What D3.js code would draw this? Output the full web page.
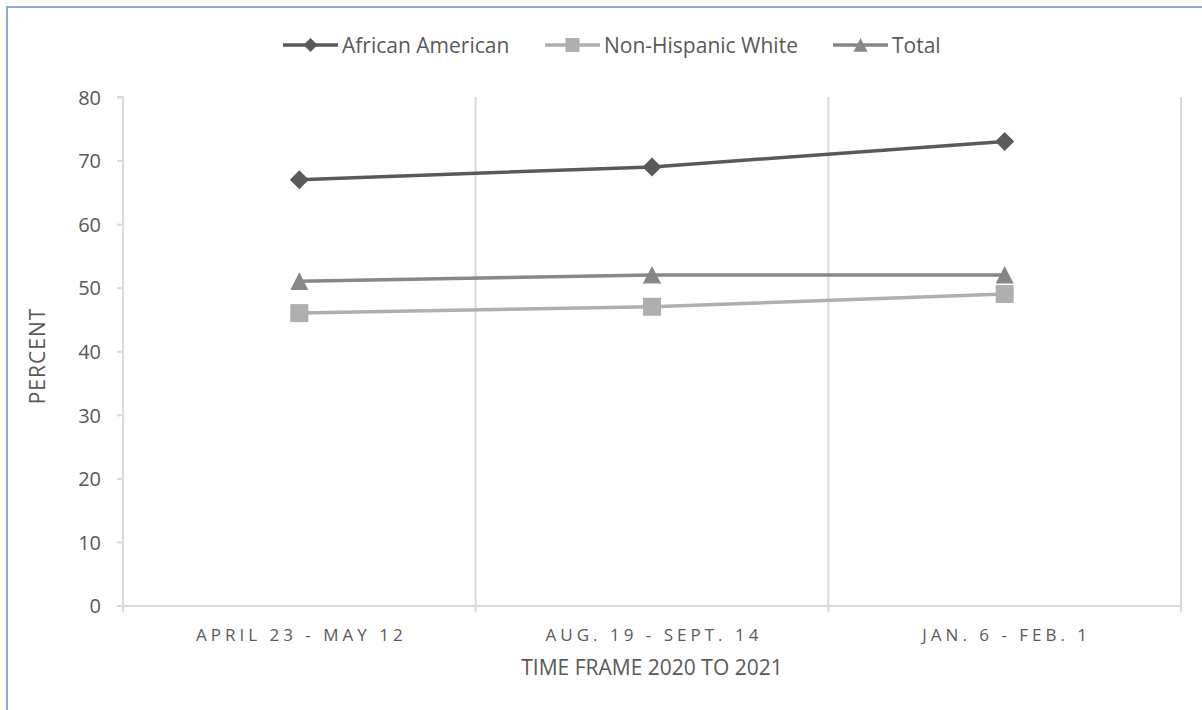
<!DOCTYPE html>
<html><head><meta charset="utf-8">
<script src="https://cdn.jsdelivr.net/npm/d3@7"></script>
<style>
html,body{margin:0;padding:0;background:#fff;}
svg{display:block;}
text{font-family:"Open Sans",sans-serif;fill:#595959;}
</style></head>
<body>
<svg id="chart" width="1202" height="710"></svg>
<script>
const categories = ["APRIL 23 - MAY 12", "AUG. 19 - SEPT. 14", "JAN. 6 - FEB. 1"];
const africanAmerican = [67, 69, 73];
const nonHispanicWhite = [46, 47, 49];
const total = [51, 52, 52];
const yTicks = [0, 10, 20, 30, 40, 50, 60, 70, 80];
const seriesNames = ["African American", "Non-Hispanic White", "Total"];

const series = [
  {name: seriesNames[0], values: africanAmerican, color: "#595959", marker: "diamond"},
  {name: seriesNames[1], values: nonHispanicWhite, color: "#afafaf", marker: "square"},
  {name: seriesNames[2], values: total, color: "#878787", marker: "triangle"}
];

const svg = d3.select("#chart");
const W = 1202, H = 710;
const pLeft = 123, pRight = 1181, pTop = 97, pBottom = 605.5;

// outer border (only top and left edges visible)
svg.append("rect").attr("x", 7).attr("y", 7).attr("width", W + 20).attr("height", H + 20)
  .attr("fill", "none").attr("stroke", "#8eaadb").attr("stroke-width", 2);

const x = d3.scaleBand().domain(categories).range([pLeft, pRight]).paddingInner(0).paddingOuter(0);
const y = d3.scaleLinear().domain([0, 80]).range([pBottom, pTop]);

// vertical gridlines at category boundaries
const bounds = categories.map(c => x(c)).concat([pRight]);
svg.append("g").selectAll("line").data(bounds.slice(1)).join("line")
  .attr("x1", d => d).attr("x2", d => d).attr("y1", pTop).attr("y2", pBottom)
  .attr("stroke", "#d9d9d9").attr("stroke-width", 2);

// y axis
const yAxis = svg.append("g").attr("transform", `translate(${pLeft},0)`)
  .call(d3.axisLeft(y).tickValues(yTicks).tickSize(6).tickPadding(16));
yAxis.select(".domain").attr("stroke", "#d9d9d9").attr("stroke-width", 2).attr("d", `M-6,${pTop}H0V${pBottom}`);
yAxis.selectAll(".tick line").attr("stroke", "#d9d9d9").attr("stroke-width", 2);
yAxis.selectAll(".tick text").attr("fill", "#595959").style("font-size", "20px").attr("dy", "0.36em")
  .style("font-family", "'Open Sans', sans-serif");

// x axis
const xAxis = svg.append("g").attr("transform", `translate(0,${pBottom})`)
  .call(d3.axisBottom(x).tickSize(0).tickPadding(0));
xAxis.select(".domain").attr("stroke", "#d9d9d9").attr("stroke-width", 2);
xAxis.selectAll(".tick text").attr("fill", "#595959").style("font-size", "17px")
  .attr("y", 35).attr("dy", 0).attr("dx", 2)
  .style("letter-spacing", "4px").style("font-family", "'Open Sans', sans-serif");
svg.append("g").selectAll("line").data(bounds).join("line")
  .attr("x1", d => d).attr("x2", d => d).attr("y1", pBottom).attr("y2", pBottom + 7)
  .attr("stroke", "#d9d9d9").attr("stroke-width", 2);

// axis titles
svg.append("text").attr("x", (pLeft + pRight) / 2).attr("y", 675).attr("text-anchor", "middle")
  .style("font-size", "21px").text("TIME FRAME 2020 TO 2021");
svg.append("text").attr("transform", `translate(45,356) rotate(-90)`)
  .attr("text-anchor", "middle").style("font-size", "21px").style("letter-spacing", "1px").text("PERCENT");

function drawMarker(g, type, color, size) {
  const s = size / 2;
  if (type === "diamond") {
    g.append("path").attr("d", `M0,${-s}L${s},0L0,${s}L${-s},0Z`).attr("fill", color);
  } else if (type === "square") {
    g.append("rect").attr("x", -s).attr("y", -s).attr("width", size).attr("height", size).attr("fill", color);
  } else {
    g.append("path").attr("d", `M0,${-s}L${s},${s * 0.95}L${-s},${s * 0.95}Z`).attr("fill", color);
  }
}

const cx = d => x(d) + x.bandwidth() / 2;
const line = d3.line().x(d => cx(d.c)).y(d => y(d.v));

series.forEach(s => {
  const pts = categories.map((c, i) => ({c, v: s.values[i]}));
  svg.append("path").datum(pts).attr("d", line).attr("fill", "none")
    .attr("stroke", s.color).attr("stroke-width", 3.5).attr("stroke-linejoin", "round");
  pts.forEach(p => {
    const g = svg.append("g").attr("transform", `translate(${cx(p.c)},${y(p.v)})`);
    drawMarker(g, s.marker, s.color, s.marker === "diamond" ? 19 : 18);
  });
});

// legend
const legendX = [283, 545, 833];
series.forEach((s, i) => {
  const g = svg.append("g").attr("transform", `translate(${legendX[i]},45)`);
  g.append("line").attr("x1", 0).attr("x2", 55).attr("y1", 0).attr("y2", 0)
    .attr("stroke", s.color).attr("stroke-width", 3.5);
  const m = g.append("g").attr("transform", "translate(27.5,0)");
  drawMarker(m, s.marker, s.color, 14);
  g.append("text").attr("x", 59).attr("y", 0).attr("dy", "0.36em").style("font-size", "21px").text(s.name);
});
</script>
</body></html>
